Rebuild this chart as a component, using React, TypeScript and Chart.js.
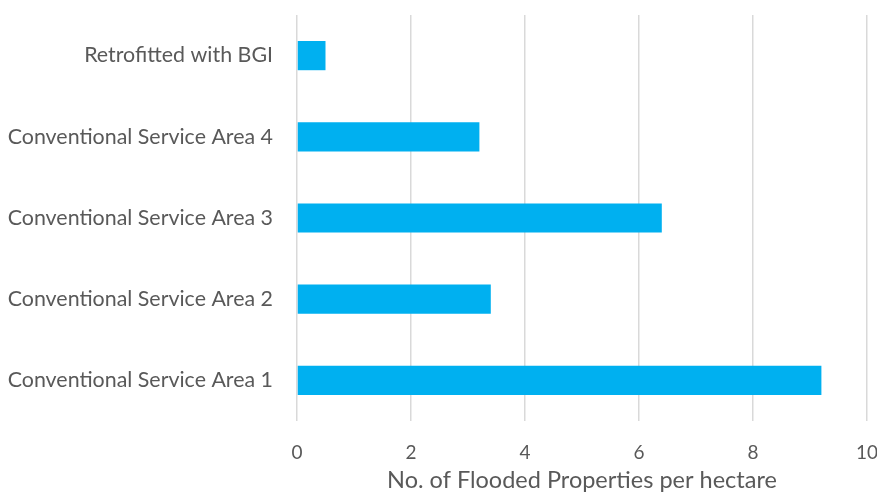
import React, { useEffect, useRef } from "react";
import { Chart, registerables } from "chart.js";

Chart.register(...registerables);

const categories = [
  "Retrofitted with BGI",
  "Conventional Service Area 4",
  "Conventional Service Area 3",
  "Conventional Service Area 2",
  "Conventional Service Area 1",
];
const values = [0.5, 3.2, 6.4, 3.4, 9.2];
const xTicks = [0, 2, 4, 6, 8, 10];
const xTitle = "No. of Flooded Properties per hectare";

const FONT = "Lato, 'Open Sans', sans-serif";
const TEXT = "#595959";

export default function App() {
  const ref = useRef<HTMLCanvasElement | null>(null);
  useEffect(() => {
    if (!ref.current) return;
    const chart = new Chart(ref.current, {
      type: "bar",
      data: {
        labels: categories,
        datasets: [
          {
            data: values,
            backgroundColor: "#00B0F0",
            borderWidth: 0,
            categoryPercentage: 1,
            barPercentage: 0.36,
          },
        ],
      },
      options: {
        indexAxis: "y",
        animation: false,
        responsive: false,
        maintainAspectRatio: false,
        layout: { padding: { top: 15, right: 10, left: 0, bottom: 0 } },
        plugins: { legend: { display: false }, tooltip: { enabled: false } },
        scales: {
          x: {
            min: xTicks[0],
            max: xTicks[xTicks.length - 1],
            afterBuildTicks: (s: any) => {
              s.ticks = xTicks.map((v) => ({ value: v }));
            },
            afterFit: (s: any) => {
              s.height = 77;
              s.paddingLeft = 0;
              s.paddingRight = 0;
            },
            grid: { color: "#D9D9D9", lineWidth: 1.5, drawTicks: false },
            border: { display: false },
            ticks: {
              color: TEXT,
              font: { family: FONT, size: 19 },
              padding: 20,
              maxRotation: 0,
              autoSkip: false,
            },
            title: {
              display: true,
              text: xTitle,
              color: TEXT,
              font: { family: FONT, size: 23.5 },
              padding: { top: 0, bottom: 3 },
            },
          },
          y: {
            afterFit: (s: any) => {
              s.width = 297;
              s.paddingTop = 0;
              s.paddingBottom = 0;
            },
            grid: { display: false, drawTicks: false },
            border: { display: false },
            ticks: {
              color: TEXT,
              font: { family: FONT, size: 21.4 },
              padding: 24,
              autoSkip: false,
            },
          },
        },
      },
    });
    return () => chart.destroy();
  }, []);
  return (
    <div style={{ position: "fixed", left: 0, top: 0, width: 877, height: 498, background: "#fff" }}>
      <canvas ref={ref} width={877} height={498} style={{ display: "block" }} />
    </div>
  );
}
